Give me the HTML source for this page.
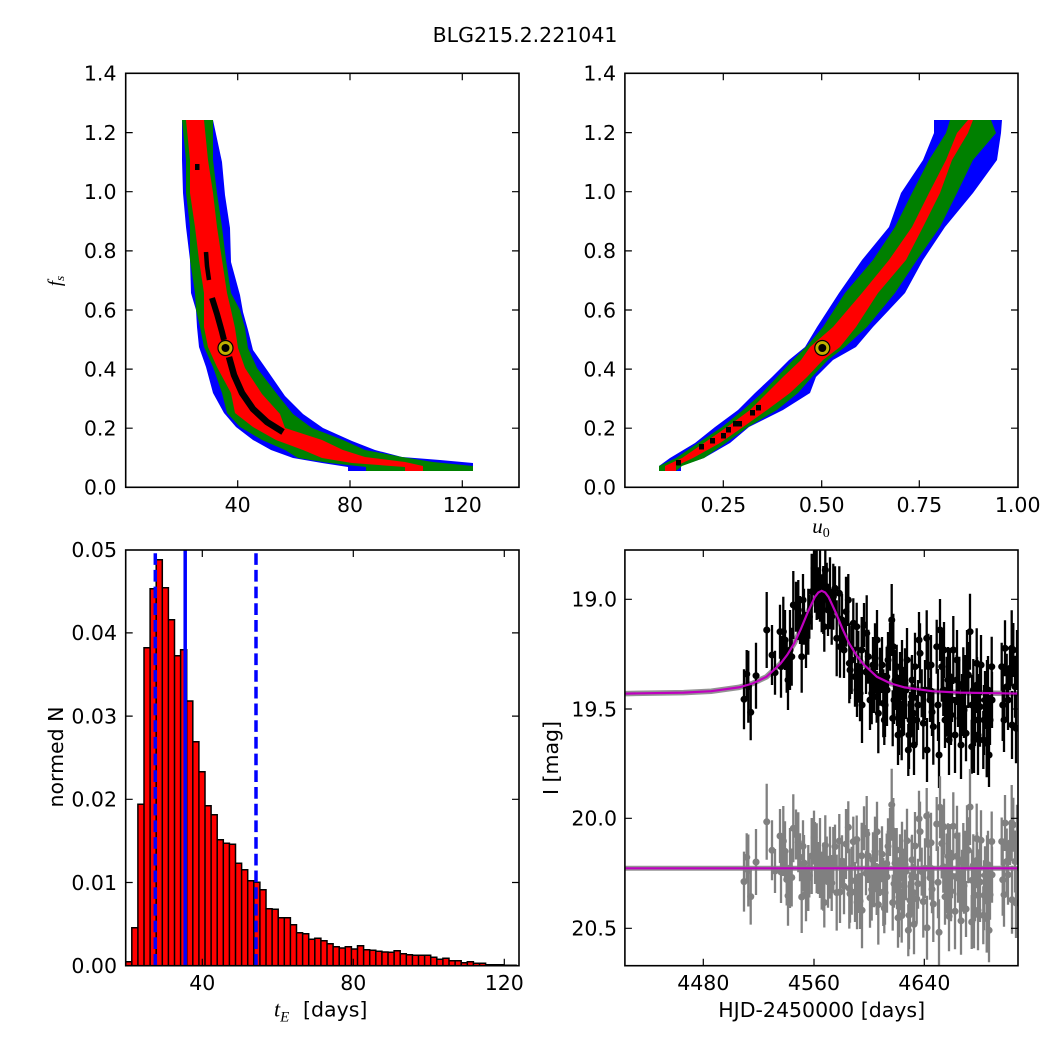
<!DOCTYPE html>
<html><head><meta charset="utf-8"><style>
html,body{margin:0;padding:0;background:#fff;}
svg{display:block;}
</style></head><body>
<svg width="1050" height="1050" viewBox="0 0 1050 1050" xmlns="http://www.w3.org/2000/svg" font-family="'DejaVu Sans','Liberation Sans',sans-serif" font-size="20.5">
<defs>
<clipPath id="cbr"><rect x="624.9" y="550" width="393.1" height="415.7"/></clipPath>
<clipPath id="cbl"><rect x="125.7" y="550" width="393.3" height="415.7"/></clipPath>
</defs>
<rect width="1050" height="1050" fill="#fff"/>
<text x="525" y="42" text-anchor="middle">BLG215.2.221041</text>

<!-- ===== Top-left heatmap ===== -->
<polygon fill="#0000ff" points="182,120 182,160 183,193 186,227 190,260 191,293 196,310 197,327 199,347 206,367 213,393 224,413 236,427 253,440 271,450 293,458 322,463 348,467 348,471 473,471 473,463 440,460 402,457 375,450 352,441 323,428 303,414 285,396 267,370 253,350 248,330 243,312 240,295 231,262 230,228 225,195 222,162 213,120"/>
<polygon fill="#008000" points="182,120 186,160 186,193 190,227 190,260 195,293 196,310 200,327 204,347 213,367 222,393 227,413 240,427 262,440 285,450 298,458 330,463 366,467 366,471 473,471 473,466 433,462 402,457 365,450 343,440 312,428 293,414 277,394 257,368 248,348 245,328 240,310 231,293 226,260 222,227 217,193 213,160 213,120"/>
<polygon fill="#ff0000" points="186,120 190,160 190,193 195,227 199,260 204,293 204,327 208,347 217,367 231,393 235,413 253,427 276,440 303,450 322,458 352,463 405,467 405,471 423,471 423,466 405,462 365,457 343,450 322,440 285,428 280,414 262,394 245,368 238,348 235,328 231,310 227,293 222,260 217,227 213,193 208,160 204,120"/>
<rect x="195" y="164" width="4.5" height="6" fill="#000"/>
<polyline fill="none" stroke="#000" stroke-width="4.5" points="206,252 207,266 209,280"/>
<polyline fill="none" stroke="#000" stroke-width="6" points="212,298 217,314 222,332 224,340"/>
<polyline fill="none" stroke="#000" stroke-width="6.5" points="229,357 234,375 242,393 253,409 267,422 283,432"/>
<circle cx="225.5" cy="348" r="7.5" fill="#bfb000" stroke="#000" stroke-width="1.2"/>
<circle cx="225.5" cy="348" r="4" fill="#000"/>

<!-- ===== Top-right heatmap ===== -->
<polygon fill="#0000ff" points="934,120 934,133 923,160 901,193 889,227 862,260 839,293 817,327 805,347 789,360 772,377 755,393 738,410 715,427 695,443 670,458 659,466 659,471 681,471 681,466 704,458 730,443 749,427 783,410 810,393 816,377 833,360 856,347 873,327 905,293 923,260 945,227 973,193 997,160 1001,133 1002,120"/>
<polygon fill="#008000" points="950,120 946,133 929,160 912,193 895,227 873,260 845,293 823,327 806,347 793,360 777,377 762,393 743,410 722,427 698,443 676,458 659,466 659,471 676,471 682,466 704,458 726,443 748,427 777,410 798,393 812,377 828,360 845,347 867,327 895,293 917,260 940,227 957,193 973,160 996,133 991,120"/>
<polygon fill="#ff0000" points="968,120 957,133 946,160 929,193 912,227 889,260 862,293 833,327 810,347 801,360 783,377 767,393 750,410 727,427 704,443 682,458 665,466 665,471 676,471 676,466 693,458 720,443 743,427 767,410 790,393 807,377 823,360 840,347 856,327 878,293 906,260 923,227 940,193 952,160 968,133 973,120"/>
<g fill="#000">
<rect x="676" y="460" width="5" height="5.5"/><rect x="699" y="444" width="5" height="5.5"/><rect x="710" y="438" width="5" height="5.5"/><rect x="721" y="433" width="5" height="5.5"/><rect x="726" y="427" width="5" height="5.5"/><rect x="733" y="421" width="9" height="5.5"/><rect x="750" y="410" width="5" height="5.5"/><rect x="756" y="405" width="5" height="5.5"/>
</g>
<circle cx="822.3" cy="348" r="7.5" fill="#bfb000" stroke="#000" stroke-width="1.2"/>
<circle cx="822.3" cy="348" r="4" fill="#000"/>

<!-- ===== Bottom-left histogram ===== -->
<g clip-path="url(#cbl)">
<path fill="#ff0000" stroke="#000" stroke-width="1.5" d="M125.7 965.7V961.7H131.8V965.7ZM131.8 965.7V927.7H137.9V965.7ZM137.9 965.7V804.3H144V965.7ZM144 965.7V647.7H150.1V965.7ZM150.1 965.7V588.7H156.2V965.7ZM156.2 965.7V559.7H162.3V965.7ZM162.3 965.7V587.7H168.4V965.7ZM168.4 965.7V619.7H174.5V965.7ZM174.5 965.7V655.7H180.6V965.7ZM180.6 965.7V649.7H186.7V965.7ZM186.7 965.7V701H192.8V965.7ZM192.8 965.7V741.7H198.9V965.7ZM198.9 965.7V771.7H205V965.7ZM205 965.7V805.7H211.1V965.7ZM211.1 965.7V814.7H217.2V965.7ZM217.2 965.7V839.7H223.3V965.7ZM223.3 965.7V843.3H229.4V965.7ZM229.4 965.7V844.3H235.5V965.7ZM235.5 965.7V863.3H241.6V965.7ZM241.6 965.7V869.7H247.7V965.7ZM247.7 965.7V880.7H253.8V965.7ZM253.8 965.7V882.3H259.9V965.7ZM259.9 965.7V889.7H266V965.7ZM266 965.7V908.7H272.1V965.7ZM272.1 965.7V909.3H278.2V965.7ZM278.2 965.7V917.7H284.3V965.7ZM284.3 965.7V917.7H290.4V965.7ZM290.4 965.7V924.7H296.5V965.7ZM296.5 965.7V932.7H302.6V965.7ZM302.6 965.7V933.7H308.7V965.7ZM308.7 965.7V939.3H314.8V965.7ZM314.8 965.7V938.3H320.9V965.7ZM320.9 965.7V940.7H327V965.7ZM327 965.7V943.7H333.1V965.7ZM333.1 965.7V946.7H339.2V965.7ZM339.2 965.7V948H345.3V965.7ZM345.3 965.7V946.7H351.4V965.7ZM351.4 965.7V949H357.5V965.7ZM357.5 965.7V945.7H363.6V965.7ZM363.6 965.7V949.7H369.7V965.7ZM369.7 965.7V950.3H375.8V965.7ZM375.8 965.7V951.3H381.9V965.7ZM381.9 965.7V952H388V965.7ZM388 965.7V952.3H394.1V965.7ZM394.1 965.7V950.7H400.2V965.7ZM400.2 965.7V953.7H406.3V965.7ZM406.3 965.7V954.7H412.4V965.7ZM412.4 965.7V955.3H418.5V965.7ZM418.5 965.7V955.3H424.6V965.7ZM424.6 965.7V955.3H430.7V965.7ZM430.7 965.7V957.3H436.8V965.7ZM436.8 965.7V959.3H442.9V965.7ZM442.9 965.7V958.3H449V965.7ZM449 965.7V960.7H455.1V965.7ZM455.1 965.7V960.7H461.2V965.7ZM461.2 965.7V962.7H467.3V965.7ZM467.3 965.7V961.7H473.4V965.7ZM473.4 965.7V963.3H479.5V965.7ZM479.5 965.7V963.3H485.6V965.7ZM485.6 965.7V964.7H491.7V965.7ZM491.7 965.7V964.7H497.8V965.7ZM497.8 965.7V964.7H503.9V965.7ZM503.9 965.7V965.3H510V965.7ZM510 965.7V965.3H516.1V965.7Z"/>
<line x1="155.3" y1="965.7" x2="155.3" y2="550" stroke="#0000ff" stroke-width="3.5" stroke-dasharray="11.7 5"/>
<line x1="185.2" y1="965.7" x2="185.2" y2="550" stroke="#0000ff" stroke-width="3.5"/>
<line x1="256" y1="965.7" x2="256" y2="550" stroke="#0000ff" stroke-width="3.5" stroke-dasharray="11.7 5"/>
</g>

<!-- ===== Bottom-right light curve ===== -->
<g clip-path="url(#cbr)">
<path fill="none" stroke="#808080" stroke-width="5.5" stroke-opacity="0.85" d="M625 693.6L683.6 692.6L711.2 691.2L738.8 687.4L752.6 683.5L766.5 676.8L780.3 663.9L787.2 654.9L794.1 643.6L801 628.7L807.9 612L814.8 597.1L818.3 592.5L821.7 590.8L825.2 592.5L828.6 597.1L835.5 612L842.4 628.7L849.3 643.6L856.2 654.9L863.1 663.9L876.9 676.8L890.8 683.5L904.6 687.4L932.2 691.2L959.8 692.6L1018 693.6"/>
<path fill="none" stroke="#808080" stroke-width="5" stroke-opacity="0.85" d="M625 868.3H1018"/>
<path fill="none" stroke="#000" stroke-width="2.3" d="M744 669.3V729.3M746.7 650V698M748.3 650.7V722.7M750.7 684.3V740.3M756 642.7V708.7M766.7 592V668M775 650.7V694.7M780 604.7V658.7M781 635.7V697.7M783.3 596.7V666.7M786.7 640.7V692.7M790 610V690M791.7 627.7V685.7M793.3 571V639M796 581.7V631.7M798.3 580V640M800 596V644M801.7 620.7V692.7M804 588.7V644.7M808.3 588.7V654.7M809.3 594.7V638.7M811.7 553.7V629.7M814 541.3V595.3M815 550.7V612.7M816.7 550V620M818.3 567.3V619.3M820 541.7V621.7M821.7 574.3V632.3M823.3 566V634M824.3 601.7V651.7M825.3 540V600M826.7 562.7V610.7M830 557.3V629.3M831.7 588.7V644.7M833.3 563.7V629.7M835 566.3V610.3M836.7 600.3V676.3M839.3 566.3V620.3M840 615.7V677.7M846 576.7V646.7M848.3 574V626M849.3 623.3V703.3M850 641V699M851.7 626V694M853.3 598.3V648.3M855 646.7V706.7M856.7 602.7V650.7M858.3 630.7V702.7M860 665.3V721.3M861.7 617V683M864 603V647M866.7 595.3V671.3M868.3 629.7V683.7M871.7 662.3V724.3M875 623.3V693.3M876.7 670.7V722.7M878.3 673.3V753.3M880 647.7V705.7M883.3 669.3V737.3M884.3 695V745M886.7 646.7V706.7M890 622.7V670.7M891.7 584V656M892.7 690.3V746.3M893.3 613.7V679.7M896.7 644.7V688.7M900 652V728M901.7 706.3V760.3M903.3 672.3V734.3M905 648.3V718.3M908.3 724V776M911.7 656.7V736.7M913.3 684.3V742.3M915 632.7V700.7M916.7 695V745M920 623.3V683.3M921.7 669.3V717.3M923.3 687.3V759.3M926.7 610.3V666.3M928.3 633.7V699.7M930 678V722M933.3 688.7V764.7M936.7 619.7V673.7M940 599V661M941.7 631.7V701.7M943.3 664V716M946.7 656.7V736.7M950 647.7V705.7M953.3 616V684M956.7 655V705M959.3 656.7V716.7M960 694.3V742.3M963.3 647.3V719.3M966 705.3V761.3M968.3 642V708M970 593.7V669.7M971.7 719.7V773.7M973.3 659V721M976.7 628.3V698.3M978.3 674V726M980 666.7V746.7M983.3 711V769M986.7 709.3V777.3M990 695V745M991.7 636.7V696.7M1001.7 642.7V690.7M1002.7 669V741M1005 620.3V676.3M1006.7 653.7V719.7M1010 646.3V690.3M1011.7 610.3V686.3M1013.3 623V677M1015 655.7V717.7M1016 693.3V763.3M897 674V726M899 675V755M906 661V719M909 701V769M918 680V730M925 660V720M932 688V736M938 669V741M945 692V748M948 647V713M952 678V722M955 697V773M958 673V727M962 674V736M965 655V725M975 694V746M978 695V775M985 671V729M988 656V724M912 655V705M904 675V735M894 676V724M887 654V726M882 637V693M874 647V713M866 650V694M862 667V743M857 663V717M898 705V765M907 628V692M914 715V775M919 612V668M927 718V782M931 635V695M939 722V788M944 622V678M949 705V775M951 685V745M957 630V690M961 711V779M964 682V738M967 630V690M972 675V735M974 707V773M977 657V713M981 635V695M984 685V755M987 660V720M989 723V787M992 672V728M1004 688V752M1008 670V730M1012 691V759M1017 630V690M870 670V730M873 637V693M877 610V670M885 673V737M888 632V688M895 650V710M902 640V700M910 692V748M842 594V646M844 622V678M828 584V636M806 612V668M803 574V626M788 650V710M785 610V670M772 625V685"/>
<path fill="none" stroke="#000" stroke-width="7" stroke-linecap="round" d="M744 699.3h.1M746.7 674h.1M748.3 686.7h.1M750.7 712.3h.1M756 675.7h.1M766.7 630h.1M775 672.7h.1M780 631.7h.1M781 666.7h.1M783.3 631.7h.1M786.7 666.7h.1M790 650h.1M791.7 656.7h.1M793.3 605h.1M796 606.7h.1M798.3 610h.1M800 620h.1M801.7 656.7h.1M804 616.7h.1M808.3 621.7h.1M809.3 616.7h.1M811.7 591.7h.1M814 568.3h.1M815 581.7h.1M816.7 585h.1M818.3 593.3h.1M820 581.7h.1M821.7 603.3h.1M823.3 600h.1M824.3 626.7h.1M825.3 570h.1M826.7 586.7h.1M830 593.3h.1M831.7 616.7h.1M833.3 596.7h.1M835 588.3h.1M836.7 638.3h.1M839.3 593.3h.1M840 646.7h.1M846 611.7h.1M848.3 600h.1M849.3 663.3h.1M850 670h.1M851.7 660h.1M853.3 623.3h.1M855 676.7h.1M856.7 626.7h.1M858.3 666.7h.1M860 693.3h.1M861.7 650h.1M864 625h.1M866.7 633.3h.1M868.3 656.7h.1M871.7 693.3h.1M875 658.3h.1M876.7 696.7h.1M878.3 713.3h.1M880 676.7h.1M883.3 703.3h.1M884.3 720h.1M886.7 676.7h.1M890 646.7h.1M891.7 620h.1M892.7 718.3h.1M893.3 646.7h.1M896.7 666.7h.1M900 690h.1M901.7 733.3h.1M903.3 703.3h.1M905 683.3h.1M908.3 750h.1M911.7 696.7h.1M913.3 713.3h.1M915 666.7h.1M916.7 720h.1M920 653.3h.1M921.7 693.3h.1M923.3 723.3h.1M926.7 638.3h.1M928.3 666.7h.1M930 700h.1M933.3 726.7h.1M936.7 646.7h.1M940 630h.1M941.7 666.7h.1M943.3 690h.1M946.7 696.7h.1M950 676.7h.1M953.3 650h.1M956.7 680h.1M959.3 686.7h.1M960 718.3h.1M963.3 683.3h.1M966 733.3h.1M968.3 675h.1M970 631.7h.1M971.7 746.7h.1M973.3 690h.1M976.7 663.3h.1M978.3 700h.1M980 706.7h.1M983.3 740h.1M986.7 743.3h.1M990 720h.1M991.7 666.7h.1M1001.7 666.7h.1M1002.7 705h.1M1005 648.3h.1M1006.7 686.7h.1M1010 668.3h.1M1011.7 648.3h.1M1013.3 650h.1M1015 686.7h.1M1016 728.3h.1M897 700h.1M899 715h.1M906 690h.1M909 735h.1M918 705h.1M925 690h.1M932 712h.1M938 705h.1M945 720h.1M948 680h.1M952 700h.1M955 735h.1M958 700h.1M962 705h.1M965 690h.1M975 720h.1M978 735h.1M985 700h.1M988 690h.1M912 680h.1M904 705h.1M894 700h.1M887 690h.1M882 665h.1M874 680h.1M866 672h.1M862 705h.1M857 690h.1M898 735h.1M907 660h.1M914 745h.1M919 640h.1M927 750h.1M931 665h.1M939 755h.1M944 650h.1M949 740h.1M951 715h.1M957 660h.1M961 745h.1M964 710h.1M967 660h.1M972 705h.1M974 740h.1M977 685h.1M981 665h.1M984 720h.1M987 690h.1M989 755h.1M992 700h.1M1004 720h.1M1008 700h.1M1012 725h.1M1017 660h.1M870 700h.1M873 665h.1M877 640h.1M885 705h.1M888 660h.1M895 680h.1M902 670h.1M910 720h.1M842 620h.1M844 650h.1M828 610h.1M806 640h.1M803 600h.1M788 680h.1M785 640h.1M772 655h.1"/>
<path fill="none" stroke="#808080" stroke-width="2.3" d="M744 851.6V911.6M746.7 833.3V881.3M748.3 834.5V906.5M750.7 868.6V924.6M756 829V895M766.7 783.8V859.8M775 849V893M780 809V863M781 841V903M783.3 806V876M786.7 853.5V905.5M790 828V908M791.7 848.5V906.5M793.3 794.3V862.3M796 809.5V859.5M798.3 812.3V872.3M800 833.3V881.3M801.7 861V933M804 835V891M808.3 845V911M809.3 853.5V897.5M811.7 818V894M814 810.6V864.6M815 822V884M816.7 823.3V893.3M818.3 842V894M820 818V898M821.7 851.6V909.6M823.3 842.8V910.8M824.3 877.5V927.5M825.3 815.3V875.3M826.7 836.5V884.5M830 826.6V898.6M831.7 855V911M833.3 827V893M835 824.6V868.6M836.7 854.6V930.6M839.3 814V868M840 861V923M846 809V879M848.3 801.3V853.3M849.3 848.6V928.6M850 864.8V922.8M851.7 846.8V914.8M853.3 816.6V866.6M855 862V922M856.7 815.5V863.5M858.3 841V913M860 873V929M861.7 822.8V888.8M864 806.3V850.3M866.7 796V872M868.3 829V883M871.7 858.6V920.6M875 816.6V886.6M876.7 863V915M878.3 864.6V944.6M880 838V896M883.3 858V926M884.3 883.3V933.3M886.7 833.5V893.5M890 808V856M891.7 768.8V840.8M892.7 874.6V930.6M893.3 798V864M896.7 828V872M900 834.3V910.3M901.7 888.6V942.6M903.3 854V916M905 829.6V899.6M908.3 904.3V956.3M911.7 836.5V916.5M913.3 863.6V921.6M915 812V880M916.7 873.8V923.8M920 801.6V861.6M921.7 847.6V895.6M923.3 865.6V937.6M926.7 788V844M928.3 811.5V877.5M930 855.8V899.8M933.3 866V942M936.7 797V851M940 776.3V838.3M941.7 808.5V878.5M943.3 840.8V892.8M946.7 833.5V913.5M950 824V882M953.3 792.3V860.3M956.7 831.3V881.3M959.3 832.5V892.5M960 870V918M963.3 823V895M966 881V937M968.3 817.3V883.3M970 769V845M971.7 895V949M973.3 834.3V896.3M976.7 803.6V873.6M978.3 849.3V901.3M980 842V922M983.3 886.3V944.3M986.7 884.6V952.6M990 869.8V919.8M991.7 811.5V871.5M1001.7 817.5V865.5M1002.7 843.8V915.8M1005 795V851M1006.7 828.5V894.5M1010 821V865M1011.7 785V861M1013.3 797.8V851.8M1015 830.5V892.5M1016 868V938M897 857.3V909.3M899 857.3V937.3M906 842.3V900.3M909 881.3V949.3M918 858.8V908.8M925 838.3V898.3M932 865.3V913.3M938 846.3V918.3M945 868.8V924.8M948 823.3V889.3M952 854.3V898.3M955 873.3V949.3M958 848.8V902.8M962 849.8V911.8M965 830.8V900.8M975 869.3V921.3M978 870.3V950.3M985 846.3V904.3M988 830.8V898.8M912 834.8V884.8M904 856.3V916.3M894 859.8V907.8M887 840.8V912.8M882 826.3V882.3M874 841.3V907.3M866 851.3V895.3M862 872.3V948.3M857 875.3V929.3M898 887.8V947.8M907 808.8V872.8M914 894.3V954.3M919 790.8V846.8M927 895.8V959.8M931 812.8V872.8M939 899.3V965.3M944 798.8V854.8M949 881.3V951.3M951 861.3V921.3M957 805.8V865.8M961 886.8V954.8M964 857.8V913.8M967 805.3V865.3M972 850.3V910.3M974 882.3V948.3M977 832.3V888.3M981 810.3V870.3M984 860.3V930.3M987 835.3V895.3M989 898.3V962.3M992 846.8V902.8M1004 862.8V926.8M1008 844.8V904.8M1012 865.8V933.8M1017 804.8V864.8M870 867.8V927.8M873 832.3V888.3M877 801.8V861.8M885 860.8V924.8M888 818.3V874.3M895 833.3V893.3M902 821.8V881.8M910 872.3V928.3M842 835.3V887.3M844 858.3V914.3M828 855.8V907.8M806 865.3V921.3M803 820.3V872.3M788 865.8V925.8M785 821.3V881.3M772 820.3V880.3"/>
<path fill="none" stroke="#808080" stroke-width="7" stroke-linecap="round" d="M744 881.6h.1M746.7 857.3h.1M748.3 870.5h.1M750.7 896.6h.1M756 862h.1M766.7 821.8h.1M775 871h.1M780 836h.1M781 872h.1M783.3 841h.1M786.7 879.5h.1M790 868h.1M791.7 877.5h.1M793.3 828.3h.1M796 834.5h.1M798.3 842.3h.1M800 857.3h.1M801.7 897h.1M804 863h.1M808.3 878h.1M809.3 875.5h.1M811.7 856h.1M814 837.6h.1M815 853h.1M816.7 858.3h.1M818.3 868h.1M820 858h.1M821.7 880.6h.1M823.3 876.8h.1M824.3 902.5h.1M825.3 845.3h.1M826.7 860.5h.1M830 862.6h.1M831.7 883h.1M833.3 860h.1M835 846.6h.1M836.7 892.6h.1M839.3 841h.1M840 892h.1M846 844h.1M848.3 827.3h.1M849.3 888.6h.1M850 893.8h.1M851.7 880.8h.1M853.3 841.6h.1M855 892h.1M856.7 839.5h.1M858.3 877h.1M860 901h.1M861.7 855.8h.1M864 828.3h.1M866.7 834h.1M868.3 856h.1M871.7 889.6h.1M875 851.6h.1M876.7 889h.1M878.3 904.6h.1M880 867h.1M883.3 892h.1M884.3 908.3h.1M886.7 863.5h.1M890 832h.1M891.7 804.8h.1M892.7 902.6h.1M893.3 831h.1M896.7 850h.1M900 872.3h.1M901.7 915.6h.1M903.3 885h.1M905 864.6h.1M908.3 930.3h.1M911.7 876.5h.1M913.3 892.6h.1M915 846h.1M916.7 898.8h.1M920 831.6h.1M921.7 871.6h.1M923.3 901.6h.1M926.7 816h.1M928.3 844.5h.1M930 877.8h.1M933.3 904h.1M936.7 824h.1M940 807.3h.1M941.7 843.5h.1M943.3 866.8h.1M946.7 873.5h.1M950 853h.1M953.3 826.3h.1M956.7 856.3h.1M959.3 862.5h.1M960 894h.1M963.3 859h.1M966 909h.1M968.3 850.3h.1M970 807h.1M971.7 922h.1M973.3 865.3h.1M976.7 838.6h.1M978.3 875.3h.1M980 882h.1M983.3 915.3h.1M986.7 918.6h.1M990 894.8h.1M991.7 841.5h.1M1001.7 841.5h.1M1002.7 879.8h.1M1005 823h.1M1006.7 861.5h.1M1010 843h.1M1011.7 823h.1M1013.3 824.8h.1M1015 861.5h.1M1016 903h.1M897 883.3h.1M899 897.3h.1M906 871.3h.1M909 915.3h.1M918 883.8h.1M925 868.3h.1M932 889.3h.1M938 882.3h.1M945 896.8h.1M948 856.3h.1M952 876.3h.1M955 911.3h.1M958 875.8h.1M962 880.8h.1M965 865.8h.1M975 895.3h.1M978 910.3h.1M985 875.3h.1M988 864.8h.1M912 859.8h.1M904 886.3h.1M894 883.8h.1M887 876.8h.1M882 854.3h.1M874 874.3h.1M866 873.3h.1M862 910.3h.1M857 902.3h.1M898 917.8h.1M907 840.8h.1M914 924.3h.1M919 818.8h.1M927 927.8h.1M931 842.8h.1M939 932.3h.1M944 826.8h.1M949 916.3h.1M951 891.3h.1M957 835.8h.1M961 920.8h.1M964 885.8h.1M967 835.3h.1M972 880.3h.1M974 915.3h.1M977 860.3h.1M981 840.3h.1M984 895.3h.1M987 865.3h.1M989 930.3h.1M992 874.8h.1M1004 894.8h.1M1008 874.8h.1M1012 899.8h.1M1017 834.8h.1M870 897.8h.1M873 860.3h.1M877 831.8h.1M885 892.8h.1M888 846.3h.1M895 863.3h.1M902 851.8h.1M910 900.3h.1M842 861.3h.1M844 886.3h.1M828 881.8h.1M806 893.3h.1M803 846.3h.1M788 895.8h.1M785 851.3h.1M772 850.3h.1"/>
<path fill="none" stroke="#bf00bf" stroke-width="2.2" d="M625 693.6L683.6 692.6L711.2 691.2L738.8 687.4L752.6 683.5L766.5 676.8L780.3 663.9L787.2 654.9L794.1 643.6L801 628.7L807.9 612L814.8 597.1L818.3 592.5L821.7 590.8L825.2 592.5L828.6 597.1L835.5 612L842.4 628.7L849.3 643.6L856.2 654.9L863.1 663.9L876.9 676.8L890.8 683.5L904.6 687.4L932.2 691.2L959.8 692.6L1018 693.6"/>
<path fill="none" stroke="#bf00bf" stroke-width="2.2" d="M625 868.3H1018"/>
</g>

<!-- ===== Axes frames and ticks ===== -->
<g fill="none" stroke="#000">
<rect x="125.7" y="73.3" width="393.3" height="414" stroke-width="1.6"/>
<rect x="624.9" y="73.3" width="393.1" height="414" stroke-width="1.6"/>
<rect x="125.7" y="550" width="393.3" height="415.7" stroke-width="1.6"/>
<rect x="624.9" y="550" width="393.1" height="415.7" stroke-width="1.6"/>
<path stroke-width="1.2" d="M237.7 487.3v-7M350 487.3v-7M462.3 487.3v-7M237.7 73.3v7M350 73.3v7M462.3 73.3v7M125.7 428.2h7M125.7 369.1h7M125.7 310h7M125.7 250.9h7M125.7 191.7h7M125.7 132.6h7M519 428.2h-7M519 369.1h-7M519 310h-7M519 250.9h-7M519 191.7h-7M519 132.6h-7"/>
<path stroke-width="1.2" d="M723.3 487.3v-7M821.7 487.3v-7M919.3 487.3v-7M723.3 73.3v7M821.7 73.3v7M919.3 73.3v7M624.9 428.2h7M624.9 369.1h7M624.9 310h7M624.9 250.9h7M624.9 191.7h7M624.9 132.6h7M1018 428.2h-7M1018 369.1h-7M1018 310h-7M1018 250.9h-7M1018 191.7h-7M1018 132.6h-7"/>
<path stroke-width="1.2" d="M202.3 965.7v-7M353.3 965.7v-7M504.3 965.7v-7M202.3 550v7M353.3 550v7M504.3 550v7M125.7 882.5h7M125.7 799.3h7M125.7 716.1h7M125.7 632.9h7M519 882.5h-7M519 799.3h-7M519 716.1h-7M519 632.9h-7"/>
<path stroke-width="1.2" d="M703.3 965.7v-7M814 965.7v-7M924.3 965.7v-7M703.3 550v7M814 550v7M924.3 550v7M624.9 599.3h7M624.9 709h7M624.9 818.3h7M624.9 928.3h7M1018 599.3h-7M1018 709h-7M1018 818.3h-7M1018 928.3h-7"/>
</g>

<!-- ===== Tick labels ===== -->
<g fill="#000" text-anchor="end">
<text x="116.5" y="494.6">0.0</text><text x="116.5" y="435.5">0.2</text><text x="116.5" y="376.4">0.4</text><text x="116.5" y="317.3">0.6</text><text x="116.5" y="258.2">0.8</text><text x="116.5" y="199">1.0</text><text x="116.5" y="139.9">1.2</text><text x="116.5" y="80.6">1.4</text>
<text x="616" y="494.6">0.0</text><text x="616" y="435.5">0.2</text><text x="616" y="376.4">0.4</text><text x="616" y="317.3">0.6</text><text x="616" y="258.2">0.8</text><text x="616" y="199">1.0</text><text x="616" y="139.9">1.2</text><text x="616" y="80.6">1.4</text>
<text x="117" y="973">0.00</text><text x="117" y="889.8">0.01</text><text x="117" y="806.6">0.02</text><text x="117" y="723.4">0.03</text><text x="117" y="640.2">0.04</text><text x="117" y="557">0.05</text>
<text x="617" y="606.6">19.0</text><text x="617" y="716.3">19.5</text><text x="617" y="825.6">20.0</text><text x="617" y="935.6">20.5</text>
</g>
<g fill="#000" text-anchor="middle">
<text x="237.7" y="512">40</text><text x="350" y="512">80</text><text x="462.3" y="512">120</text>
<text x="723.3" y="512">0.25</text><text x="821.7" y="512">0.50</text><text x="919.3" y="512">0.75</text><text x="1017.7" y="512">1.00</text>
<text x="202.3" y="990">40</text><text x="353.3" y="990">80</text><text x="504.3" y="990">120</text>
<text x="703.3" y="990">4480</text><text x="814" y="990">4560</text><text x="924.3" y="990">4640</text>
</g>

<!-- ===== Axis labels ===== -->
<text transform="translate(61,281) rotate(-90)" text-anchor="middle"><tspan font-family="'Liberation Serif',serif" font-style="italic" font-size="19">f</tspan><tspan font-family="'Liberation Serif',serif" font-style="italic" font-size="13" dy="3">s</tspan></text>
<text x="821" y="533" text-anchor="middle"><tspan font-family="'Liberation Serif',serif" font-style="italic" font-size="21">u</tspan><tspan font-family="'Liberation Serif',serif" font-size="14" dy="4">0</tspan></text>
<text transform="translate(63,757) rotate(-90)" text-anchor="middle">normed N</text>
<text x="274" y="1016.5"><tspan font-family="'Liberation Serif',serif" font-style="italic" font-size="22">t</tspan><tspan font-family="'Liberation Serif',serif" font-style="italic" font-size="15" dy="5">E</tspan></text>
<text x="303" y="1016.5">[days]</text>
<text x="821.7" y="1017" text-anchor="middle">HJD-2450000 [days]</text>
<text transform="translate(558,758) rotate(-90)" text-anchor="middle">I [mag]</text>
</svg>
</body></html>
